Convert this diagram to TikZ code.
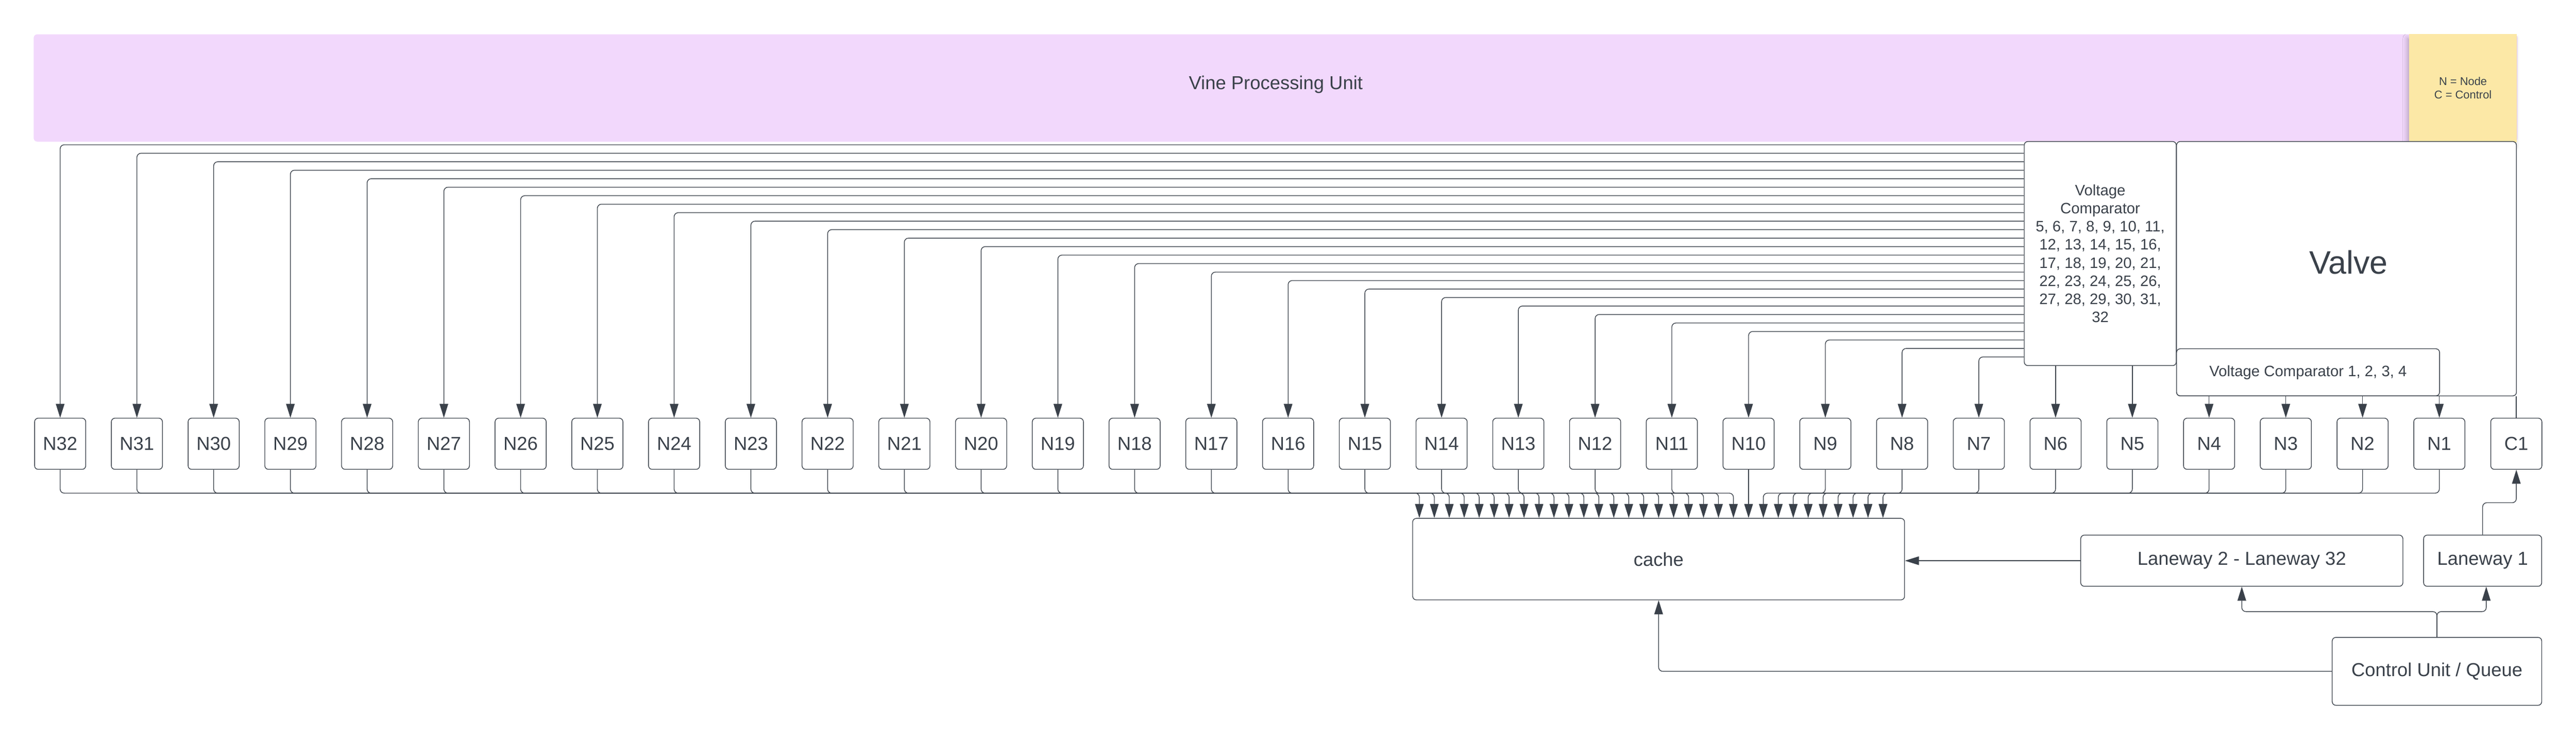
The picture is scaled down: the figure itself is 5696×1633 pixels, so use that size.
\documentclass[tikz,border=0pt]{standalone}
\usepackage{fontspec}
\setmainfont{Liberation Sans}
\usetikzlibrary{arrows.meta,calc,shadows.blur}
\definecolor{ink}{HTML}{3A414A}
\definecolor{vpucol}{HTML}{F2D8FC}
\definecolor{stickycol}{HTML}{FCE8A6}
\newcommand\fsmain{\fontsize{11.8}{14}\selectfont}
\newcommand\fsvc{\fontsize{9.5}{11.4}\selectfont}
\newcommand\fsnote{\fontsize{7.1}{8.5}\selectfont}
\newcommand\fsvalve{\fontsize{20.4}{24}\selectfont}
\begin{document}
\begin{tikzpicture}[x=0.01cm,y=-0.01cm,line width=0.45pt,
  box/.style={draw=ink,rounded corners=0.08cm,inner sep=0pt,text=ink,font=\fsmain,fill=white},
  nbox/.style={box,minimum width=1.13cm,minimum height=1.13cm},
  conn/.style={draw=ink,rounded corners=0.09cm,-{Triangle[length=0.31cm,width=0.19cm]}},
  plain/.style={draw=ink,rounded corners=0.09cm},
  txt/.style={inner sep=0pt,text=ink}]
\useasboundingbox (0,0) rectangle (5696,1633);
% top band and note
\node[fill=vpucol,rounded corners=0.08cm,minimum width=54.89cm,minimum height=2.37cm,inner sep=0pt] (vpu) at (2820.5,194.5) {};
\node[txt,font=\fsmain] (vputxt) at (2821,187) {Vine Processing Unit};
\node[fill=stickycol,minimum width=2.38cm,minimum height=2.39cm,inner sep=0pt,align=center,text=ink,font=\fsnote,
  blur shadow={shadow xshift=-0.04cm,shadow yshift=-0.1cm,shadow opacity=25,shadow blur radius=0.1cm}] (note) at (5446,194.5) {N = Node\\C = Control};
% comparators and valve
\node[box,minimum width=3.36cm,minimum height=4.95cm,align=center,font=\fsvc] (vc) at (4644,560.5)
  {Voltage\\Comparator\\5, 6, 7, 8, 9, 10, 11,\\12, 13, 14, 15, 16,\\17, 18, 19, 20, 21,\\22, 23, 24, 25, 26,\\27, 28, 29, 30, 31,\\32};
\node[box,minimum width=7.51cm,minimum height=5.62cm] (valve) at (5188.5,594) {};
\node[txt,font=\fsvalve] (valvetxt) at (5193,580) {Valve};
\node[box,minimum width=5.81cm,minimum height=1.04cm,font=\fsvc] (vc14) at (5103.5,823) {Voltage Comparator 1, 2, 3, 4};
% node row
\foreach \i in {0,...,31}{
  \pgfmathtruncatemacro\k{32-\i}
  \node[nbox] (n\k) at ({133+\i*169.7},981) {N\k};
}
\node[nbox] (c1) at (5564,981) {C1};
% lower boxes
\node[box,minimum width=10.87cm,minimum height=1.80cm] (cache) at (3667.5,1236) {cache};
\node[box,minimum width=7.12cm,minimum height=1.13cm] (lw2) at (4957,1239.5) {Laneway 2 - Laneway 32};
\node[box,minimum width=2.61cm,minimum height=1.13cm] (lw1) at (5489.5,1239.5) {Laneway 1};
\node[box,minimum width=4.63cm,minimum height=1.50cm] (cu) at (5388.5,1484) {Control Unit / Queue};
% comparator 5-32 to nodes
\foreach \i in {0,...,25}{
  \pgfmathtruncatemacro\k{32-\i}
  \pgfmathsetmacro\dy{8+\i*18.76}
  \draw[conn] ($(vc.north west)+(0,\dy)$) -| (n\k.north);
}
\draw[conn] (vc.south -| n6.north) -- (n6.north);
\draw[conn] (vc.south -| n5.north) -- (n5.north);
\foreach \k in {4,3,2,1}{
  \draw[conn] (vc14.south -| n\k.north) -- (n\k.north);
}
% nodes to cache
\foreach \i in {0,...,31}{
  \pgfmathtruncatemacro\k{32-\i}
  \pgfmathsetmacro\ax{15.5+\i*33.07}
  \ifnum\i=22
    \draw[conn] (n\k.south) -- (n\k.south |- cache.north);
  \else
    \draw[conn] (n\k.south) |- ($(cache.north west)+(\ax,-55)$) -- ($(cache.north west)+(\ax,0)$);
  \fi
}
% control side
\draw[plain] (c1.north) -- (c1.north |- valve.south);
\draw[conn] (lw1.north) |- ($(c1.south)+(0,73)$) -- (c1.south);
\draw[conn] (lw2.west) -- (lw2.west -| cache.east);
\coordinate (split) at (5388.5,1352);
\draw[conn] (cu.north) -- (split) -| (lw2.south);
\draw[conn] (cu.north) -- (split) -| ($(lw1.south)+(8,0)$);
\draw[conn] (cu.west) -| (cache.south);
\end{tikzpicture}
\end{document}
